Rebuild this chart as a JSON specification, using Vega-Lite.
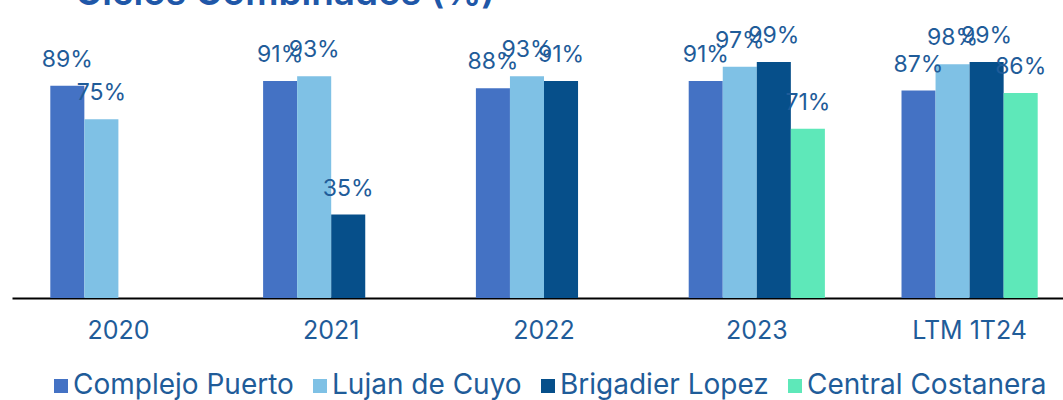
{
  "$schema": "https://vega.github.io/schema/vega-lite/v6.json",
  "width": 1051,
  "height": 298,
  "autosize": {"type": "none"},
  "padding": {"left": 12, "top": 0, "right": 0, "bottom": 102},
  "background": "white",
  "title": {"text": "Ciclos Combinados (%)", "anchor": "start", "dx": 63, "offset": -5, "dy": 37, "baseline": "alphabetic", "fontSize": 37, "font": "Inter", "fontWeight": 600, "color": "#1F57A8"},
  "config": {"view": {"stroke": null}, "font": "Inter"},
  "data": {"values": [
    {"period": "2020", "plant": "Complejo Puerto", "value": 0.89},
    {"period": "2020", "plant": "Lujan de Cuyo", "value": 0.75},
    {"period": "2021", "plant": "Complejo Puerto", "value": 0.91},
    {"period": "2021", "plant": "Lujan de Cuyo", "value": 0.93},
    {"period": "2021", "plant": "Brigadier Lopez", "value": 0.35},
    {"period": "2022", "plant": "Complejo Puerto", "value": 0.88},
    {"period": "2022", "plant": "Lujan de Cuyo", "value": 0.93},
    {"period": "2022", "plant": "Brigadier Lopez", "value": 0.91},
    {"period": "2023", "plant": "Complejo Puerto", "value": 0.91},
    {"period": "2023", "plant": "Lujan de Cuyo", "value": 0.97},
    {"period": "2023", "plant": "Brigadier Lopez", "value": 0.99},
    {"period": "2023", "plant": "Central Costanera", "value": 0.71},
    {"period": "LTM 1T24", "plant": "Complejo Puerto", "value": 0.87},
    {"period": "LTM 1T24", "plant": "Lujan de Cuyo", "value": 0.98},
    {"period": "LTM 1T24", "plant": "Brigadier Lopez", "value": 0.99},
    {"period": "LTM 1T24", "plant": "Central Costanera", "value": 0.86}
  ]},
  "encoding": {
    "x": {"field": "period", "type": "nominal", "sort": ["2020", "2021", "2022", "2023", "LTM 1T24"],
      "scale": {"range": [0, 1064], "paddingInner": 0.36, "paddingOuter": 0.18},
      "axis": {"title": null, "domain": true, "domainColor": "#000000", "domainWidth": 2, "ticks": false, "grid": false, "labelAngle": 0, "labelFontSize": 25, "labelPadding": 20, "labelColor": "#1F5C99", "labelFont": "Inter"}},
    "xOffset": {"field": "plant", "type": "nominal", "sort": ["Complejo Puerto", "Lujan de Cuyo", "Brigadier Lopez", "Central Costanera"],
      "scale": {"domain": ["Complejo Puerto", "Lujan de Cuyo", "Brigadier Lopez", "Central Costanera"], "paddingInner": 0, "paddingOuter": 0}},
    "y": {"field": "value", "type": "quantitative", "scale": {"domain": [0, 1.25]}, "axis": null}
  },
  "layer": [
    {
      "mark": {"type": "bar"},
      "encoding": {
        "color": {"field": "plant", "type": "nominal",
          "scale": {"domain": ["Complejo Puerto", "Lujan de Cuyo", "Brigadier Lopez", "Central Costanera"], "range": ["#4472C4", "#7FC1E5", "#064F8A", "#5EE8B9"]},
          "legend": {"title": null, "orient": "none", "legendX": 35, "legendY": 372, "direction": "horizontal", "symbolType": "square", "symbolSize": 196, "symbolStrokeWidth": 0, "labelFontSize": 28, "labelLimit": 0, "labelColor": "#1F5C99", "labelFont": "Inter", "columnPadding": 12, "labelOffset": -2}}
      }
    },
    {
      "mark": {"type": "text", "dy": -26, "baseline": "middle", "align": "center", "fontSize": 23, "color": "#1F5C99", "font": "Inter"},
      "encoding": {"text": {"field": "value", "type": "quantitative", "format": ".0%"}}
    }
  ]
}
